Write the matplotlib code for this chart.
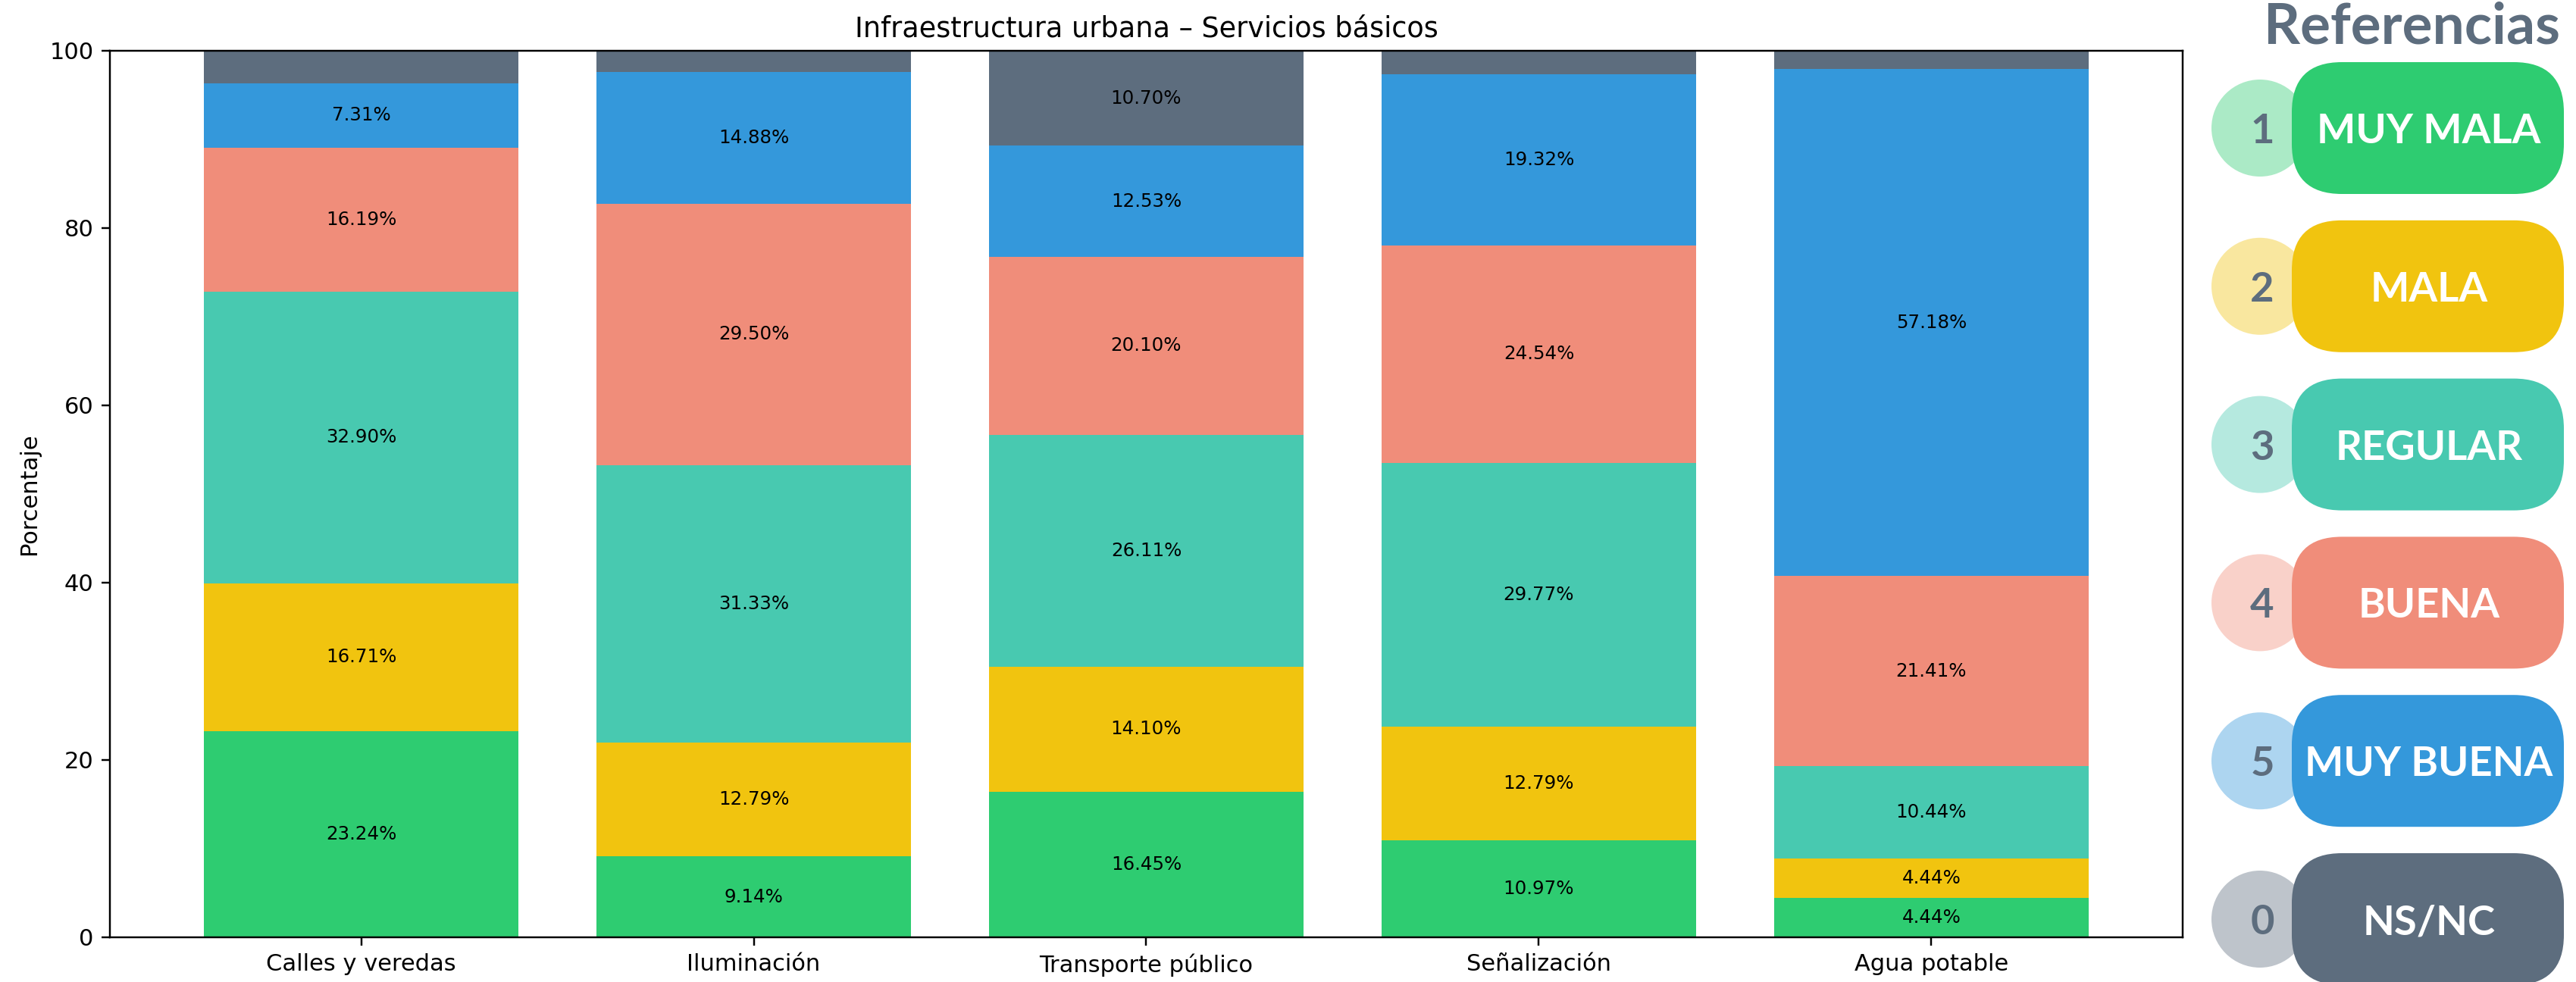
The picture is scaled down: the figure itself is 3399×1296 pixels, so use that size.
import matplotlib
matplotlib.use("Agg")
import matplotlib.pyplot as plt
from matplotlib.patches import FancyBboxPatch, Ellipse
import numpy as np

# datos
servicios = ["Calles y veredas", "Iluminación", "Transporte público", "Señalización", "Agua potable"]
muy_mala = [23.24, 9.14, 16.45, 10.97, 4.44]
mala = [16.71, 12.79, 14.10, 12.79, 4.44]
regular = [32.90, 31.33, 26.11, 29.77, 10.44]
buena = [16.19, 29.50, 20.10, 24.54, 21.41]
muy_buena = [7.31, 14.88, 12.53, 19.32, 57.18]
ns_nc = [3.65, 2.36, 10.70, 2.61, 2.09]

categorias = ["MUY MALA", "MALA", "REGULAR", "BUENA", "MUY BUENA", "NS/NC"]
numeros = ["1", "2", "3", "4", "5", "0"]
colores = ["#2ecc71", "#f1c40f", "#48c9b0", "#f08d7a", "#3498db", "#5d6d7e"]

W, H = 3399, 1296
DPI = 220
fig = plt.figure(figsize=(W / DPI, H / DPI), dpi=DPI)
ax = fig.add_axes([145 / W, 1 - 1237 / H, (2880 - 145) / W, (1237 - 67) / H])

series = [muy_mala, mala, regular, buena, muy_buena, ns_nc]
x = np.arange(len(servicios))
base = np.zeros(len(servicios))
for vals, col in zip(series, colores):
    vals = np.array(vals)
    ax.bar(x, vals, 0.8, bottom=base, color=col)
    for xi, b, v in zip(x, base, vals):
        if v > 4:
            ax.text(xi, b + v / 2, f"{v:.2f}%", ha="center", va="center", fontsize=8, color="black")
    base = base + vals

ax.set_ylim(0, 100)
ax.set_xticks(x)
ax.set_xticklabels(servicios, fontsize=10)
ax.tick_params(axis="y", labelsize=10)
ax.set_ylabel("Porcentaje", fontsize=10)
ax.set_title("Infraestructura urbana – Servicios básicos", fontsize=12)

# referencias a la derecha
lax = fig.add_axes([0, 0, 1, 1])
lax.set_xlim(0, W)
lax.set_ylim(H, 0)
lax.axis("off")

lax.text(3183, 58, "Referencias", ha="center", va="baseline", fontsize=24.5,
         fontfamily="Lato", fontweight="bold", color="#5d6d7e")

for i, (cat, num, col) in enumerate(zip(categorias, numeros, colores)):
    cy = 169 + 208.8 * i
    lax.add_patch(Ellipse((2982, cy), 128, 128, color=col, alpha=0.4, lw=0))
    lax.add_patch(FancyBboxPatch((3024, cy - 87), 359, 174,
                                 boxstyle="round,pad=0,rounding_size=66",
                                 color=col, lw=0))
    lax.text(2985, cy, num, ha="center", va="center_baseline", fontsize=17.8,
             fontfamily="Lato", fontweight="bold", color="#5d6d7e")
    lax.text(3205, cy, cat, ha="center", va="center_baseline", fontsize=17.8,
             fontfamily="Lato", fontweight="bold", color="white")

fig.savefig("out.png", dpi=DPI)
